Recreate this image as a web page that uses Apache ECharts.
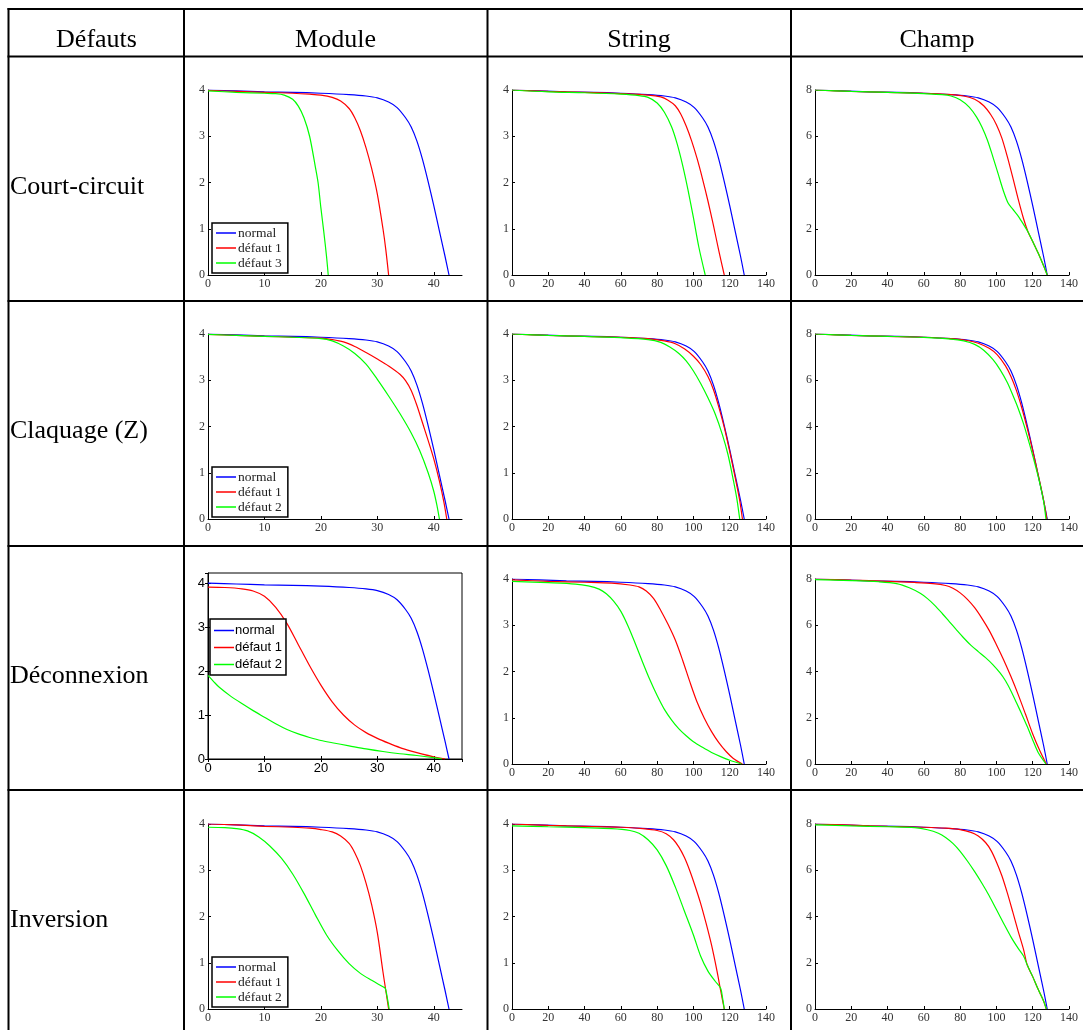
<!DOCTYPE html>
<html>
<head>
<meta charset="utf-8">
<script src="https://cdn.jsdelivr.net/npm/echarts@6/dist/echarts.min.js"></script>
<style>
html,body{margin:0;padding:0;background:#fff;}
#chart{width:1083px;height:1030px;}
</style>
</head>
<body>
<div id="chart"></div>
<script>
// ---------- Labels ----------
const colLabels = ['Défauts', 'Module', 'String', 'Champ'];
const rowLabels = ['Court-circuit', 'Claquage (Z)', 'Déconnexion', 'Inversion'];
const legendRow1 = ['normal', 'défaut 1', 'défaut 3'];
const legendRowOther = ['normal', 'défaut 1', 'défaut 2'];

// ---------- Reference (normal) curves ----------
const modNormal = [[0,4.0],[5,3.98],[10,3.96],[15,3.95],[20,3.93],[25,3.9],[28,3.87],[30,3.83],[32,3.74],[33.5,3.62],[35,3.4],[36,3.2],[37,2.9],[38,2.5],[39,2.02],[40,1.5],[41,0.95],[42,0.4],[42.7,0]];
const strNormal = [[0,4.0],[15,3.98],[30,3.96],[45,3.95],[60,3.93],[75,3.9],[84,3.87],[90,3.83],[96,3.74],[100.5,3.62],[105,3.4],[108,3.2],[111,2.9],[114,2.5],[117,2.02],[120,1.5],[123,0.95],[126,0.4],[128,0]];
const chpNormal = [[0,8.0],[15,7.96],[30,7.92],[45,7.9],[60,7.86],[75,7.8],[84,7.74],[90,7.66],[96,7.48],[100.5,7.24],[105,6.8],[108,6.4],[111,5.8],[114,5.0],[117,4.04],[120,3.0],[123,1.9],[126,0.8],[128,0]];

// ---------- Row 1: Court-circuit ----------
const ccModDef1 = [[0,3.99],[5,3.97],[10,3.95],[15,3.93],[18,3.91],[20,3.89],[22,3.84],[23.5,3.76],[25,3.6],[26,3.4],[27,3.12],[28,2.75],[29,2.3],[30,1.75],[31,1.0],[31.5,0.55],[32,0]];
const ccModDef3 = [[0,3.98],[5,3.95],[10,3.93],[12,3.92],[13.5,3.89],[15,3.8],[16,3.65],[17,3.4],[18,3.0],[19,2.35],[19.5,2.0],[20,1.45],[20.5,0.95],[21,0.4],[21.3,0]];
const ccStrDef1 = [[0,4.0],[20,3.97],[40,3.95],[60,3.92],[75,3.89],[82,3.85],[86,3.78],[90,3.66],[93,3.48],[96,3.22],[99,2.9],[102,2.52],[105,2.08],[108,1.6],[111,1.08],[114,0.52],[117,0]];
const ccStrDef3 = [[0,4.0],[20,3.96],[40,3.94],[60,3.91],[70,3.88],[75,3.84],[80,3.72],[84,3.52],[88,3.2],[91,2.84],[94,2.38],[97,1.84],[100,1.24],[103,0.6],[106.5,0]];
const ccChpDef1 = [[0,8.0],[20,7.94],[40,7.9],[60,7.86],[75,7.8],[82,7.74],[88,7.6],[93,7.32],[97,6.92],[100,6.5],[103,5.92],[106,5.12],[109,4.22],[112,3.28],[115,2.42],[117.5,1.85],[120,1.45],[123,0.95],[126,0.4],[128,0]];
const ccChpDef3 = [[0,8.0],[20,7.94],[40,7.9],[60,7.84],[70,7.8],[75,7.74],[80,7.58],[85,7.26],[89,6.84],[92,6.4],[95,5.84],[98,5.12],[101,4.36],[104,3.6],[106.5,3.1],[109,2.85],[112,2.55],[115,2.18],[117.5,1.85],[120,1.45],[123,0.95],[126,0.4],[128,0]];

// ---------- Row 2: Claquage (Z) ----------
const clModDef1 = [[0,3.99],[5,3.97],[10,3.95],[15,3.93],[20,3.91],[22,3.88],[24,3.83],[26,3.73],[28,3.6],[30,3.46],[32,3.31],[34,3.13],[35,2.99],[36,2.78],[37,2.46],[38,2.08],[39,1.7],[40,1.3],[41,0.82],[41.8,0.36],[42.3,0]];
const clModDef2 = [[0,3.99],[5,3.97],[10,3.95],[15,3.93],[20,3.9],[22,3.85],[24,3.74],[26,3.58],[28,3.35],[30,3.02],[32,2.66],[34,2.28],[36,1.86],[37.5,1.48],[39,1.0],[40,0.6],[40.6,0.27],[41,0]];
const clStrDef1 = [[0,4.0],[20,3.97],[40,3.95],[60,3.93],[75,3.9],[84,3.85],[90,3.79],[95,3.68],[100,3.52],[104,3.34],[108,3.08],[111,2.8],[114,2.42],[117,1.98],[120,1.46],[123,0.9],[125.5,0.4],[127,0]];
const clStrDef2 = [[0,4.0],[20,3.97],[40,3.95],[60,3.92],[75,3.88],[82,3.82],[87,3.72],[92,3.58],[96,3.42],[100,3.2],[104,2.93],[108,2.62],[112,2.27],[116,1.82],[119,1.4],[122,0.84],[124,0.42],[125.5,0]];
const clChpDef1 = [[0,8.0],[20,7.94],[40,7.9],[60,7.86],[75,7.8],[84,7.72],[90,7.6],[96,7.38],[100.5,7.1],[105,6.62],[108,6.16],[111,5.56],[114,4.8],[117,3.92],[120,2.96],[123,1.92],[126,0.82],[127.8,0]];
const clChpDef2 = [[0,8.0],[20,7.94],[40,7.9],[60,7.85],[75,7.78],[82,7.7],[88,7.55],[93,7.3],[98,6.9],[102,6.46],[106,5.9],[109,5.36],[112,4.78],[115,4.1],[118,3.3],[121,2.45],[124,1.52],[126,0.76],[127.3,0]];

// ---------- Row 3: Déconnexion ----------
const dcModDef1 = [[0,3.91],[3,3.9],[6,3.87],[8,3.82],[10,3.7],[12,3.45],[14,3.08],[16,2.6],[18,2.12],[20,1.68],[22,1.3],[24,1.0],[26,0.77],[28,0.6],[30,0.47],[32,0.36],[34,0.26],[36,0.18],[38,0.11],[40,0.05],[42,0]];
const dcModDef2 = [[0,1.9],[1,1.76],[2,1.63],[4,1.43],[6,1.26],[8,1.1],[10,0.95],[12,0.8],[14,0.67],[16,0.57],[18,0.49],[20,0.42],[22,0.37],[25,0.3],[28,0.23],[31,0.17],[34,0.12],[37,0.08],[40,0.03],[41.5,0]];
const dcStrDef1 = [[0,3.98],[20,3.95],[40,3.93],[55,3.91],[65,3.87],[70,3.83],[74,3.74],[78,3.58],[82,3.32],[86,3.02],[90,2.68],[94,2.25],[98,1.78],[102,1.34],[106,0.99],[110,0.7],[114,0.46],[118,0.27],[122,0.12],[127,0]];
const dcStrDef2 = [[0,3.95],[20,3.92],[35,3.89],[42,3.85],[48,3.78],[52,3.68],[56,3.52],[60,3.3],[64,2.98],[68,2.6],[72,2.2],[76,1.82],[80,1.48],[84,1.18],[88,0.95],[92,0.76],[96,0.61],[100,0.48],[105,0.36],[110,0.25],[115,0.16],[120,0.08],[126.5,0]];
const dcChpDef1 = [[0,8.0],[20,7.95],[40,7.9],[55,7.85],[65,7.8],[72,7.72],[76,7.6],[80,7.4],[84,7.12],[88,6.76],[92,6.3],[96,5.78],[100,5.16],[104,4.5],[108,3.78],[112,3.0],[116,2.16],[120,1.3],[124,0.56],[127.5,0]];
const dcChpDef2 = [[0,7.97],[20,7.93],[35,7.88],[45,7.8],[52,7.62],[58,7.38],[62,7.15],[66,6.86],[70,6.52],[74,6.16],[78,5.8],[82,5.45],[86,5.13],[90,4.86],[94,4.6],[98,4.3],[102,3.94],[105,3.6],[108,3.16],[111,2.66],[114,2.15],[117,1.62],[120,1.04],[123,0.5],[127.3,0]];

// ---------- Row 4: Inversion ----------
const invModDef1 = [[0,4.0],[5,3.98],[10,3.95],[15,3.93],[18,3.91],[20,3.88],[22,3.83],[23.5,3.74],[25,3.58],[26,3.38],[27,3.1],[28,2.72],[29,2.25],[30,1.65],[31,0.8],[31.5,0.4],[32,0]];
const invModDef2 = [[0,3.93],[3,3.92],[5,3.9],[7,3.85],[9,3.72],[11,3.52],[13,3.26],[15,2.92],[17,2.5],[19,2.04],[21,1.6],[23,1.26],[25,0.98],[27,0.77],[29,0.62],[31,0.48],[31.4,0.45],[31.8,0.22],[32.1,0]];
const invStrDef1 = [[0,4.0],[20,3.97],[40,3.95],[60,3.93],[72,3.9],[80,3.86],[85,3.79],[89,3.66],[92,3.5],[95,3.28],[98,2.99],[101,2.65],[104,2.28],[107,1.85],[110,1.38],[113,0.82],[115,0.4],[117,0]];
const invStrDef2 = [[0,3.96],[20,3.94],[40,3.92],[55,3.9],[65,3.86],[70,3.8],[75,3.66],[80,3.44],[85,3.1],[90,2.64],[95,2.12],[100,1.6],[104,1.14],[108,0.82],[112,0.6],[115,0.45],[116,0.25],[117,0]];
const invChpDef1 = [[0,8.0],[20,7.95],[40,7.9],[60,7.86],[72,7.82],[80,7.76],[86,7.64],[90,7.48],[94,7.2],[97,6.86],[100,6.36],[103,5.76],[106,5.02],[109,4.2],[112,3.36],[115,2.56],[117,1.9],[120,1.4],[123,0.85],[126,0.35],[127.5,0]];
const invChpDef2 = [[0,7.96],[20,7.92],[40,7.88],[55,7.84],[62,7.75],[68,7.6],[72,7.42],[76,7.16],[80,6.82],[84,6.4],[88,5.94],[92,5.44],[96,4.9],[100,4.3],[104,3.7],[108,3.12],[112,2.62],[115,2.28],[117,1.9],[120,1.4],[123,0.85],[126,0.35],[127.5,0]];

// ---------- Build ----------
const SERIF = '"Liberation Serif", "Times New Roman", serif';
const SANS = '"Liberation Sans", Arial, sans-serif';
const COLORS = { normal: '#0000ff', 'défaut 1': '#ff0000', 'défaut 2': '#00ff00', 'défaut 3': '#00ff00' };

const plots = [
  { r:0, c:0, d:[modNormal, ccModDef1, ccModDef3], names: legendRow1 },
  { r:0, c:1, d:[strNormal, ccStrDef1, ccStrDef3], names: legendRow1 },
  { r:0, c:2, d:[chpNormal, ccChpDef1, ccChpDef3], names: legendRow1 },
  { r:1, c:0, d:[modNormal, clModDef1, clModDef2], names: legendRowOther },
  { r:1, c:1, d:[strNormal, clStrDef1, clStrDef2], names: legendRowOther },
  { r:1, c:2, d:[chpNormal, clChpDef1, clChpDef2], names: legendRowOther },
  { r:2, c:0, d:[modNormal, dcModDef1, dcModDef2], names: legendRowOther, boxed: true },
  { r:2, c:1, d:[strNormal, dcStrDef1, dcStrDef2], names: legendRowOther },
  { r:2, c:2, d:[chpNormal, dcChpDef1, dcChpDef2], names: legendRowOther },
  { r:3, c:0, d:[modNormal, invModDef1, invModDef2], names: legendRowOther },
  { r:3, c:1, d:[strNormal, invStrDef1, invStrDef2], names: legendRowOther },
  { r:3, c:2, d:[chpNormal, invChpDef1, invChpDef2], names: legendRowOther }
];

const colLeft = [208, 512, 815];
const plotW = 254;
const rowTop = [90, 334, 579, 824];
const plotH = 185;

const grids = [], xAxes = [], yAxes = [], series = [];

plots.forEach((p, i) => {
  const isMod = p.c === 0;
  const isChp = p.c === 2;
  const font = p.boxed ? SANS : SERIF;
  const fsize = p.boxed ? 13 : 12;
  const labColor = p.boxed ? '#000' : '#333';
  let top = rowTop[p.r], h = plotH, yMax = isChp ? 8 : 4;
  if (p.boxed) { top = 573; h = 186; yMax = 4.23; }
  grids.push({
    left: colLeft[p.c], top: top, width: plotW, height: h,
    show: !!p.boxed, borderColor: '#000', borderWidth: 1, backgroundColor: 'transparent'
  });
  const axLine = { show: true, lineStyle: { color: '#000', width: 1 } };
  xAxes.push({
    type: 'value', gridIndex: i, min: 0, max: isMod ? 45 : 140, interval: isMod ? 10 : 20,
    axisLine: axLine, splitLine: { show: false },
    axisTick: { show: true, inside: true, length: 3, lineStyle: { color: '#000' } },
    axisLabel: { showMaxLabel: !isMod, margin: 3, fontFamily: font, fontSize: fsize, color: labColor }
  });
  yAxes.push({
    type: 'value', gridIndex: i, min: 0, max: yMax, interval: isChp ? 2 : 1,
    axisLine: axLine, splitLine: { show: false },
    axisTick: { show: true, inside: true, length: 3, lineStyle: { color: '#000' } },
    axisLabel: { showMaxLabel: !p.boxed, margin: 3, fontFamily: font, fontSize: fsize, color: labColor }
  });
  p.d.forEach((curve, k) => {
    const nm = p.names[k];
    series.push({
      type: 'line', name: nm, xAxisIndex: i, yAxisIndex: i, data: curve,
      symbol: 'none', showSymbol: false, smooth: 0.3,
      lineStyle: { color: COLORS[nm], width: 1.2 }, itemStyle: { color: COLORS[nm] },
      silent: true, z: 2 + k
    });
  });
});

// extra top/right axes for boxed (MATLAB box on) plot
const boxedIdx = 6;
xAxes.push({
  type: 'value', gridIndex: boxedIdx, position: 'top', min: 0, max: 45, interval: 10,
  axisLine: { show: false }, splitLine: { show: false },
  axisTick: { show: true, inside: true, length: 3, lineStyle: { color: '#000' } },
  axisLabel: { show: false }
});
yAxes.push({
  type: 'value', gridIndex: boxedIdx, position: 'right', min: 0, max: 4.23, interval: 1,
  axisLine: { show: false }, splitLine: { show: false },
  axisTick: { show: true, inside: true, length: 3, lineStyle: { color: '#000' } },
  axisLabel: { show: false }
});

// legends in the Module column
function serifLegend(top, names) {
  return {
    data: names, orient: 'vertical', left: 212, top: top,
    icon: 'rect', itemWidth: 20, itemHeight: 1.5, itemGap: 1, padding: [3, 6, 3, 4],
    borderColor: '#000', borderWidth: 1.5, backgroundColor: '#fff',
    textStyle: { fontFamily: SERIF, fontSize: 13.5, color: '#222', padding: [0, 0, 0, -3], lineHeight: 14 },
    selectedMode: false
  };
}
const legends = [
  serifLegend(223, legendRow1),
  serifLegend(467, legendRowOther),
  {
    data: legendRowOther, orient: 'vertical', left: 210, top: 619,
    icon: 'rect', itemWidth: 20, itemHeight: 1.5, itemGap: 2, padding: [4, 4, 3, 4],
    borderColor: '#000', borderWidth: 1.5, backgroundColor: '#fff',
    textStyle: { fontFamily: SANS, fontSize: 13, color: '#000', padding: [0, 0, 0, -4], lineHeight: 15 },
    selectedMode: false
  },
  serifLegend(957, legendRowOther)
];

// table graphics
const hLines = [9, 56.5, 301, 546, 790];
const vLines = [8.5, 184, 487.5, 791];
const colCenters = [96.5, 335.5, 639, 937];
const rowCenters = [187, 431, 676, 920];
const graphics = [];
hLines.forEach(y => graphics.push({ type: 'line', silent: true, shape: { x1: 7.5, y1: y, x2: 1083, y2: y }, style: { stroke: '#000', lineWidth: 2 } }));
vLines.forEach(x => graphics.push({ type: 'line', silent: true, shape: { x1: x, y1: 8, x2: x, y2: 1030 }, style: { stroke: '#000', lineWidth: 2 } }));
colLabels.forEach((t, i) => graphics.push({
  type: 'text', silent: true, x: colCenters[i], y: 40.5,
  style: { text: t, font: '26px ' + SERIF, fill: '#000', align: 'center', verticalAlign: 'middle' }
}));
rowLabels.forEach((t, i) => graphics.push({
  type: 'text', silent: true, x: 10, y: rowCenters[i],
  style: { text: t, font: '26px ' + SERIF, fill: '#000', align: 'left', verticalAlign: 'middle' }
}));

const chart = echarts.init(document.getElementById('chart'), null, { renderer: 'canvas' });
chart.setOption({
  animation: false,
  backgroundColor: '#fff',
  grid: grids,
  xAxis: xAxes,
  yAxis: yAxes,
  legend: legends,
  series: series,
  graphic: graphics
});
</script>
</body>
</html>
